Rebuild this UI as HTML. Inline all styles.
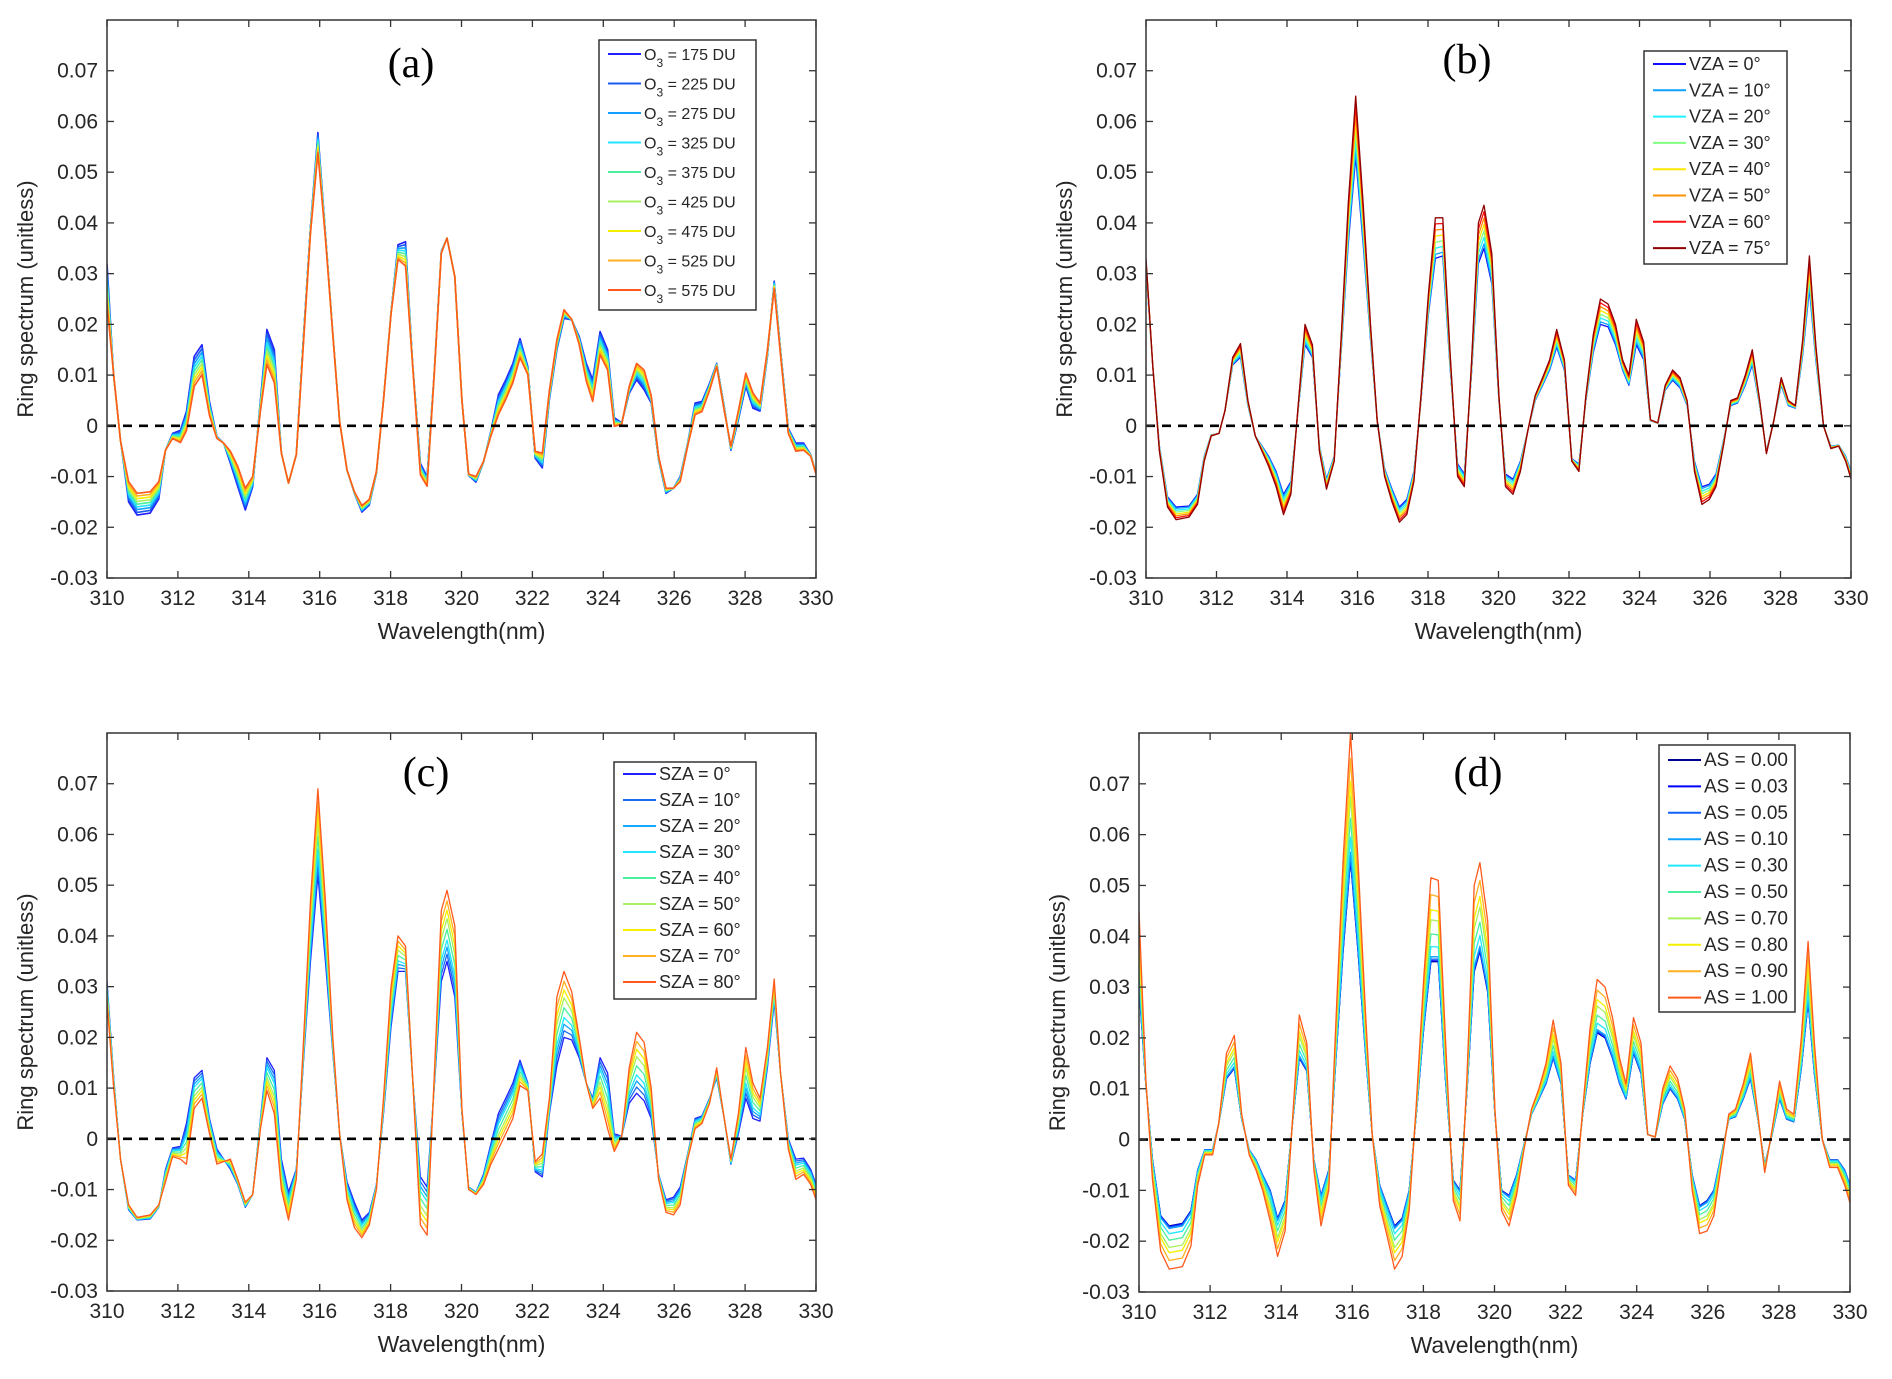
<!DOCTYPE html>
<html><head><meta charset="utf-8">
<style>
html,body{margin:0;padding:0;background:#fff;}
svg{display:block;font-family:"Liberation Sans",Arial,sans-serif;}
</style></head>
<body>
<svg id="fig" width="1892" height="1379" viewBox="0 0 1892 1379" xmlns="http://www.w3.org/2000/svg"></svg>
<script>
// ---------- DATA ----------
const wavelengths=[310.0,310.19,310.38,310.61,310.85,311.22,311.46,311.65,311.85,312.07,312.24,312.46,312.68,312.89,313.1,313.29,313.48,313.69,313.9,314.11,314.33,314.51,314.72,314.92,315.12,315.34,315.55,315.74,315.95,316.16,316.37,316.56,316.77,316.98,317.19,317.4,317.6,317.8,318.01,318.21,318.42,318.62,318.84,319.03,319.23,319.43,319.59,319.81,320.01,320.2,320.41,320.62,320.83,321.04,321.25,321.45,321.65,321.87,322.08,322.28,322.48,322.69,322.89,323.11,323.32,323.52,323.7,323.91,324.12,324.31,324.52,324.73,324.94,325.15,325.35,325.56,325.77,325.98,326.17,326.38,326.59,326.78,327.0,327.2,327.41,327.6,327.81,328.02,328.22,328.42,328.63,328.82,329.0,329.22,329.43,329.65,329.85,330.0];

const aLow=[0.032,0.0097,-0.0028,-0.015,-0.0176,-0.0172,-0.0144,-0.0048,-0.0015,-0.0009,0.0028,0.0137,0.016,0.0048,-0.0021,-0.0034,-0.0074,-0.012,-0.0166,-0.012,0.0052,0.019,0.015,-0.0054,-0.0113,-0.0057,0.0183,0.0393,0.0578,0.038,0.0183,0.0009,-0.0087,-0.0133,-0.017,-0.0156,-0.0094,0.0052,0.0223,0.0357,0.0363,0.0123,-0.0074,-0.01,0.0104,0.0344,0.037,0.0294,0.0052,-0.0098,-0.0111,-0.0072,-0.001,0.0061,0.0091,0.0123,0.0172,0.0117,-0.0064,-0.0083,0.0052,0.015,0.0212,0.0209,0.0176,0.0123,0.0091,0.0186,0.015,0.0016,0.0006,0.0064,0.0091,0.0071,0.0045,-0.0067,-0.0133,-0.0123,-0.01,-0.0034,0.0045,0.0048,0.0084,0.0123,0.0038,-0.0048,0.0012,0.0078,0.0035,0.0029,0.0137,0.0285,0.015,-0.0005,-0.0034,-0.0034,-0.0057,-0.0093];
const aHigh=[0.024,0.010,-0.003,-0.011,-0.0133,-0.013,-0.011,-0.0048,-0.0025,-0.0033,-0.001,0.0078,0.0101,0.002,-0.0025,-0.0034,-0.005,-0.008,-0.0123,-0.010,0.003,0.0121,0.0085,-0.0054,-0.0113,-0.0057,0.017,0.038,0.0538,0.037,0.018,0.0009,-0.0087,-0.013,-0.0157,-0.0145,-0.009,0.005,0.022,0.0328,0.0315,0.012,-0.0097,-0.0119,0.010,0.034,0.037,0.0294,0.005,-0.0095,-0.010,-0.007,-0.002,0.0022,0.0052,0.0085,0.0134,0.0101,-0.005,-0.0054,0.007,0.017,0.0229,0.021,0.016,0.0088,0.0048,0.014,0.011,-0.0001,0.0003,0.0078,0.0123,0.011,0.006,-0.006,-0.0123,-0.0123,-0.011,-0.004,0.0022,0.0028,0.007,0.0117,0.003,-0.004,0.003,0.0104,0.0065,0.0045,0.015,0.027,0.014,-0.0015,-0.005,-0.0048,-0.006,-0.0095];

const bLow=[0.031,0.012,-0.004,-0.014,-0.016,-0.0158,-0.0135,-0.006,-0.0018,-0.0015,0.003,0.012,0.0135,0.004,-0.002,-0.004,-0.006,-0.009,-0.0135,-0.011,0.004,0.016,0.0135,-0.004,-0.0105,-0.006,0.016,0.036,0.053,0.036,0.017,0.001,-0.0085,-0.0125,-0.016,-0.0145,-0.009,0.005,0.022,0.033,0.0335,0.012,-0.0075,-0.0095,0.010,0.032,0.035,0.028,0.005,-0.0095,-0.0105,-0.007,-0.001,0.005,0.008,0.011,0.0155,0.011,-0.0065,-0.0075,0.005,0.0145,0.020,0.0195,0.016,0.011,0.008,0.016,0.013,0.001,0.0005,0.007,0.009,0.0075,0.004,-0.007,-0.012,-0.0115,-0.0095,-0.003,0.004,0.0045,0.008,0.012,0.004,-0.005,0.001,0.008,0.004,0.0035,0.014,0.027,0.013,0.0,-0.004,-0.0038,-0.006,-0.009];
const bHigh=[0.033,0.012,-0.005,-0.016,-0.0185,-0.018,-0.0155,-0.007,-0.002,-0.0015,0.003,0.0135,0.0162,0.005,-0.002,-0.005,-0.008,-0.012,-0.0175,-0.0135,0.005,0.020,0.016,-0.005,-0.0125,-0.007,0.019,0.044,0.065,0.044,0.020,0.001,-0.010,-0.015,-0.019,-0.0175,-0.011,0.006,0.026,0.041,0.041,0.015,-0.010,-0.012,0.012,0.040,0.0435,0.034,0.006,-0.012,-0.0135,-0.009,-0.001,0.006,0.0095,0.013,0.019,0.013,-0.007,-0.009,0.006,0.018,0.025,0.024,0.020,0.013,0.010,0.021,0.0165,0.0012,0.0006,0.008,0.011,0.0095,0.005,-0.009,-0.0155,-0.0145,-0.012,-0.004,0.005,0.0055,0.010,0.015,0.005,-0.0055,0.001,0.0095,0.005,0.004,0.017,0.0335,0.016,0.0,-0.0045,-0.004,-0.007,-0.0105];

const cLow=[0.031,0.012,-0.004,-0.014,-0.016,-0.0158,-0.0135,-0.006,-0.0018,-0.0015,0.003,0.012,0.0135,0.004,-0.002,-0.004,-0.006,-0.009,-0.0135,-0.011,0.004,0.016,0.0135,-0.004,-0.0105,-0.006,0.016,0.035,0.052,0.035,0.017,0.001,-0.0085,-0.0125,-0.016,-0.0145,-0.009,0.005,0.022,0.033,0.033,0.012,-0.0075,-0.0095,0.010,0.031,0.035,0.028,0.005,-0.0095,-0.0105,-0.007,-0.001,0.005,0.008,0.011,0.0155,0.011,-0.0065,-0.0075,0.005,0.0145,0.020,0.0195,0.016,0.011,0.008,0.016,0.013,0.001,0.0005,0.007,0.009,0.0075,0.004,-0.007,-0.012,-0.0115,-0.0095,-0.003,0.004,0.0045,0.008,0.012,0.004,-0.005,0.001,0.008,0.004,0.0035,0.014,0.027,0.013,0.0,-0.004,-0.0038,-0.006,-0.009];
const cHigh=[0.027,0.010,-0.004,-0.013,-0.0155,-0.015,-0.013,-0.0085,-0.0035,-0.004,-0.005,0.006,0.008,0.001,-0.005,-0.0045,-0.004,-0.008,-0.0125,-0.011,0.002,0.0095,0.005,-0.010,-0.016,-0.008,0.020,0.047,0.069,0.047,0.020,0.001,-0.012,-0.0175,-0.0195,-0.017,-0.010,0.008,0.030,0.040,0.038,0.012,-0.017,-0.019,0.012,0.045,0.049,0.042,0.006,-0.010,-0.011,-0.009,-0.005,-0.002,0.001,0.004,0.0105,0.0095,-0.0045,-0.003,0.008,0.028,0.033,0.029,0.020,0.011,0.006,0.008,0.002,-0.0025,0.0005,0.014,0.021,0.019,0.010,-0.008,-0.0145,-0.015,-0.013,-0.004,0.002,0.003,0.007,0.014,0.004,-0.004,0.005,0.018,0.011,0.008,0.018,0.0315,0.013,-0.002,-0.008,-0.007,-0.009,-0.012];

const dLow=[0.030,0.011,-0.004,-0.015,-0.017,-0.0165,-0.014,-0.006,-0.002,-0.002,0.003,0.012,0.014,0.004,-0.002,-0.004,-0.007,-0.010,-0.0155,-0.012,0.004,0.016,0.0135,-0.004,-0.011,-0.006,0.017,0.037,0.055,0.037,0.017,0.001,-0.009,-0.013,-0.017,-0.0155,-0.010,0.005,0.022,0.035,0.035,0.012,-0.008,-0.010,0.010,0.033,0.037,0.029,0.005,-0.010,-0.011,-0.007,-0.001,0.005,0.008,0.011,0.016,0.011,-0.007,-0.008,0.005,0.015,0.021,0.020,0.016,0.011,0.008,0.017,0.013,0.001,0.0005,0.007,0.010,0.008,0.004,-0.007,-0.013,-0.012,-0.010,-0.003,0.004,0.0045,0.008,0.012,0.004,-0.005,0.001,0.008,0.004,0.0035,0.014,0.027,0.013,0.0,-0.004,-0.004,-0.006,-0.009];
const dHigh=[0.045,0.012,-0.008,-0.022,-0.0255,-0.025,-0.021,-0.009,-0.003,-0.003,0.003,0.017,0.0205,0.005,-0.003,-0.006,-0.010,-0.016,-0.023,-0.018,0.005,0.0245,0.019,-0.006,-0.017,-0.010,0.025,0.055,0.080,0.055,0.025,0.001,-0.013,-0.019,-0.0255,-0.023,-0.014,0.007,0.032,0.0515,0.051,0.020,-0.012,-0.016,0.013,0.050,0.0545,0.043,0.006,-0.014,-0.017,-0.011,-0.002,0.006,0.010,0.015,0.0235,0.015,-0.009,-0.011,0.006,0.022,0.0315,0.030,0.024,0.016,0.011,0.024,0.019,0.001,0.0005,0.010,0.0145,0.012,0.006,-0.010,-0.0185,-0.018,-0.015,-0.005,0.005,0.006,0.011,0.017,0.005,-0.0065,0.002,0.0115,0.006,0.005,0.020,0.039,0.019,0.0,-0.0055,-0.0055,-0.009,-0.0125];

const aLabels=["175","225","275","325","375","425","475","525","575"];
const aColors=["#1f1fff","#1a5cf0","#14a0ff","#20e4ff","#48f0a0","#a8f060","#f4f000","#ffb020","#ff5a1c"];
const bLabels=["VZA = 0°","VZA = 10°","VZA = 20°","VZA = 30°","VZA = 40°","VZA = 50°","VZA = 60°","VZA = 75°"];
const bColors=["#1010ff","#10a0ff","#20f0ff","#80ff80","#ffe800","#ff9000","#ff1010","#900000"];
const cLabels=["SZA = 0°","SZA = 10°","SZA = 20°","SZA = 30°","SZA = 40°","SZA = 50°","SZA = 60°","SZA = 70°","SZA = 80°"];
const cColors=["#1f1fff","#1a6cf0","#14a8ff","#20e8ff","#48f0a0","#a8f060","#f4f000","#ffb020","#ff5a1c"];
const dLabels=["AS = 0.00","AS = 0.03","AS = 0.05","AS = 0.10","AS = 0.30","AS = 0.50","AS = 0.70","AS = 0.80","AS = 0.90","AS = 1.00"];
const dColors=["#000090","#0000ff","#1060ff","#10a0ff","#20e8ff","#48f0a0","#a8f060","#f4f000","#ffb020","#ff5a1c"];
const aBlend=[0,0.125,0.25,0.375,0.5,0.625,0.75,0.875,1];
const bBlend=[0,0.1,0.25,0.4,0.55,0.7,0.85,1];
const cBlend=[0,0.1,0.2,0.3,0.45,0.6,0.72,0.85,1];
const dBlend=[0,0.01,0.03,0.06,0.18,0.33,0.5,0.62,0.8,1];
const xTicks=[310,312,314,316,318,320,322,324,326,328,330];
const yTicks=[-0.03,-0.02,-0.01,0,0.01,0.02,0.03,0.04,0.05,0.06,0.07];
const yTickLabels=["-0.03","-0.02","-0.01","0","0.01","0.02","0.03","0.04","0.05","0.06","0.07"];

// ---------- DRAW ----------
const NS="http://www.w3.org/2000/svg";
const svg=document.getElementById('fig');
function mk(tag,attrs,parent){const e=document.createElementNS(NS,tag);for(const k in attrs)e.setAttribute(k,attrs[k]);(parent||svg).appendChild(e);return e;}

const panels=[
 {id:'a',title:'(a)',L:107,R:816,T:20,B:578,lo:aLow,hi:aHigh,blend:aBlend,labels:aLabels,colors:aColors,ozone:true,
  leg:{x:599,y:40,w:157,h:270,first:54,step:29.5,fs:16},tx:411,ty:62,lw:1.6},
 {id:'b',title:'(b)',L:1146,R:1851,T:20,B:578,lo:bLow,hi:bHigh,blend:bBlend,labels:bLabels,colors:bColors,
  leg:{x:1644,y:51,w:143,h:213,first:64,step:26.3,fs:18},tx:1467,ty:58,lw:1.3},
 {id:'c',title:'(c)',L:107,R:816,T:733,B:1291,lo:cLow,hi:cHigh,blend:cBlend,labels:cLabels,colors:cColors,
  leg:{x:614,y:762,w:142,h:237,first:774,step:26,fs:18},tx:426,ty:771,lw:1.3},
 {id:'d',title:'(d)',L:1139,R:1850,T:733,B:1292,lo:dLow,hi:dHigh,blend:dBlend,labels:dLabels,colors:dColors,
  leg:{x:1659,y:745,w:136,h:267,first:760,step:26.4,fs:19},tx:1478,ty:771,lw:1.3}
];

panels.forEach(p=>{
  const g=mk('g',{});
  
  
  const xs=w=>p.L+(w-310)/20*(p.R-p.L);
  const ys=v=>p.B-(v+0.03)/0.11*(p.B-p.T);
  const clipId='clip'+p.id;
  const cp=mk('clipPath',{id:clipId},g);
  mk('rect',{x:p.L,y:p.T,width:p.R-p.L,height:p.B-p.T},cp);
  const sg=mk('g',{'clip-path':'url(#'+clipId+')'},g);
  p.blend.forEach((t,si)=>{
    let d='';
    wavelengths.forEach((w,i)=>{
      const v=p.lo[i]+(p.hi[i]-p.lo[i])*t;
      d+=(i?'L':'M')+xs(w).toFixed(1)+','+ys(v).toFixed(1);
    });
    const path=mk('path',{d:d,fill:'none',stroke:p.colors[si],'stroke-width':p.lw,'stroke-linejoin':'round'},sg);
    
    
  });
  const z=mk('line',{x1:p.L,x2:p.R,y1:ys(0),y2:ys(0),stroke:'#000','stroke-width':2.6,'stroke-dasharray':'9,7'},g);
  
  
  const box=mk('rect',{x:p.L,y:p.T,width:p.R-p.L,height:p.B-p.T,fill:'none',stroke:'#333','stroke-width':1.5},g);
  
  
  xTicks.forEach(t=>{
    const x=xs(t);
    mk('line',{x1:x,x2:x,y1:p.B,y2:p.B-7,stroke:'#333','stroke-width':1.3},g);
    mk('line',{x1:x,x2:x,y1:p.T,y2:p.T+7,stroke:'#333','stroke-width':1.3},g);
    const tl=mk('text',{x:x,y:p.B+27,'font-size':21,'text-anchor':'middle',fill:'#262626'},g);
    tl.textContent=String(t);
    
    
  });
  yTicks.forEach((t,i)=>{
    const y=ys(t);
    mk('line',{x1:p.L,x2:p.L+7,y1:y,y2:y,stroke:'#333','stroke-width':1.3},g);
    mk('line',{x1:p.R,x2:p.R-7,y1:y,y2:y,stroke:'#333','stroke-width':1.3},g);
    const tl=mk('text',{x:p.L-9,y:y+7,'font-size':21,'text-anchor':'end',fill:'#262626'},g);
    tl.textContent=yTickLabels[i];
    
    
  });
  const xt=mk('text',{x:(p.L+p.R)/2,y:p.B+61,'font-size':23,'text-anchor':'middle',fill:'#262626'},g);
  xt.textContent='Wavelength(nm)';
  
  
  const yx=p.L-74, ymid=(p.T+p.B)/2;
  const yt=mk('text',{x:yx,y:ymid,'font-size':22,'text-anchor':'middle',fill:'#262626',transform:'rotate(-90 '+yx+' '+ymid+')'},g);
  yt.textContent='Ring spectrum (unitless)';
  
  
  const pt=mk('text',{x:p.tx,y:p.ty+15,'font-size':42,'text-anchor':'middle','font-family':'"Liberation Serif",serif',fill:'#000'},g);
  pt.textContent=p.title;
  
  
  const L=p.leg;
  const lg=mk('g',{},g);
  
  
  mk('rect',{x:L.x,y:L.y,width:L.w,height:L.h,fill:'#fff',stroke:'#333','stroke-width':1.5},lg);
  p.labels.forEach((lab,i)=>{
    const y=L.first+i*L.step;
    const e=mk('g',{},lg);
    
    
    mk('line',{x1:L.x+9,x2:L.x+42,y1:y,y2:y,stroke:p.colors[i],'stroke-width':2},e);
    const t=mk('text',{x:L.x+45,y:y+6,'font-size':L.fs,fill:'#262626'},e);
    if(p.ozone){
      t.appendChild(document.createTextNode('O'));
      const s=mk('tspan',{dy:7,'font-size':12},t); s.textContent='3';
      const r=mk('tspan',{dy:-7},t); r.textContent=' = '+lab+' DU';
    } else t.textContent=lab;
  });
});
</script>
</body></html>
